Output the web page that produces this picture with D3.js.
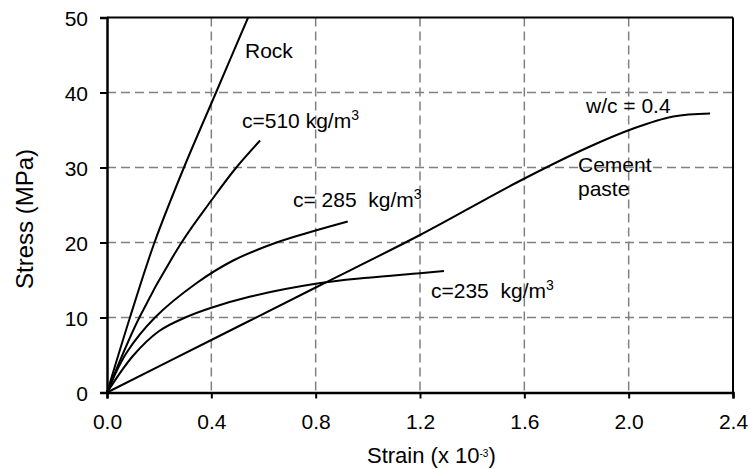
<!DOCTYPE html>
<html>
<head>
<meta charset="utf-8">
<script src="https://cdn.jsdelivr.net/npm/d3@7"></script>
<style>
  html, body { margin: 0; padding: 0; background: #fff; }
  svg { display: block; font-family: "Liberation Sans", Arial, sans-serif; }
</style>
</head>
<body>
<svg id="chart" width="751" height="469"></svg>
<script>
// ---- data (strain x 10^-3, stress MPa) ----
const xTicks = [0.0, 0.4, 0.8, 1.2, 1.6, 2.0, 2.4];
const yTicks = [0, 10, 20, 30, 40, 50];

const rockStrain = [0, 0.088, 0.182, 0.295, 0.418, 0.541];
const rockStress = [0, 10, 20, 30, 40, 50];

const c510Strain = [0, 0.124, 0.286, 0.4, 0.491, 0.587];
const c510Stress = [0, 10, 20, 25.6, 29.8, 33.6];

const c285Strain = [0, 0.075, 0.184, 0.344, 0.484, 0.65, 0.8, 0.923];
const c285Stress = [0, 5.3, 10, 14.6, 17.6, 20.0, 21.6, 22.8];

const c235Strain = [0, 0.1, 0.2, 0.3, 0.4, 0.55, 0.8, 1.0, 1.2, 1.292];
const c235Stress = [0, 4.9, 8.2, 10.0, 11.3, 12.8, 14.5, 15.3, 15.9, 16.2];

const pasteStrain = [0, 0.4, 0.8, 1.2, 1.571, 1.839, 2.018, 2.171, 2.312];
const pasteStress = [0, 7.0, 14.0, 21.0, 28.0, 32.6, 35.2, 36.8, 37.2];

const seriesList = [
  { name: "Rock", strain: rockStrain, stress: rockStress },
  { name: "c=510", strain: c510Strain, stress: c510Stress },
  { name: "c=285", strain: c285Strain, stress: c285Stress },
  { name: "c=235", strain: c235Strain, stress: c235Stress },
  { name: "Cement paste", strain: pasteStrain, stress: pasteStress }
];

// ---- layout ----
const svg = d3.select("#chart");
const pLeft = 107, pRight = 733, pTop = 17.5, pBottom = 392.5;
const x = d3.scaleLinear().domain([0, 2.4]).range([pLeft, pRight]);
const y = d3.scaleLinear().domain([0, 50]).range([pBottom, pTop]);

// gridlines
const grid = svg.append("g");
grid.selectAll("line.v").data(xTicks.slice(1, -1)).join("line")
  .attr("class", "v")
  .attr("x1", d => x(d)).attr("x2", d => x(d))
  .attr("y1", pTop).attr("y2", pBottom)
  .attr("stroke", "#808080").attr("stroke-width", 1.5).attr("stroke-dasharray", "9,5");
grid.selectAll("line.h").data(yTicks.slice(1, -1)).join("line")
  .attr("class", "h")
  .attr("x1", pLeft).attr("x2", pRight)
  .attr("y1", d => y(d)).attr("y2", d => y(d))
  .attr("stroke", "#808080").attr("stroke-width", 1.5).attr("stroke-dasharray", "9,5");

// frame top/right
svg.append("line").attr("x1", pLeft).attr("x2", pRight).attr("y1", pTop).attr("y2", pTop)
  .attr("stroke", "#000").attr("stroke-width", 2);
svg.append("line").attr("x1", pRight).attr("x2", pRight).attr("y1", pTop).attr("y2", pBottom)
  .attr("stroke", "#000").attr("stroke-width", 2);

// axes
const xAxis = d3.axisBottom(x).tickValues(xTicks).tickFormat(d3.format(".1f")).tickSize(6).tickPadding(16);
const yAxis = d3.axisLeft(y).tickValues(yTicks).tickFormat(d3.format("d")).tickSize(7).tickPadding(12);

const gx = svg.append("g").attr("transform", `translate(0,${pBottom})`).call(xAxis);
const gy = svg.append("g").attr("transform", `translate(${pLeft},0)`).call(yAxis);
[gx, gy].forEach(g => {
  g.select(".domain").attr("stroke", "#000").attr("stroke-width", 2.5);
  g.selectAll(".tick line").attr("stroke", "#000").attr("stroke-width", 2);
  g.selectAll(".tick text").attr("fill", "#000")
    .style("font-family", "'Liberation Sans', Arial, sans-serif").style("font-size", "21px");
});
gy.selectAll(".tick text").attr("dy", "0.36em");

// curves
const line = d3.line().x(d => x(d[0])).y(d => y(d[1])).curve(d3.curveCatmullRom.alpha(0.5));
svg.append("g").selectAll("path").data(seriesList).join("path")
  .attr("d", s => line(s.strain.map((v, i) => [v, s.stress[i]])))
  .attr("fill", "none").attr("stroke", "#000").attr("stroke-width", 2);

// labels
const labels = svg.append("g").style("font-size", "21px").attr("fill", "#000");
function label(xp, yp, main, sup) {
  const t = labels.append("text").attr("x", xp).attr("y", yp).attr("xml:space", "preserve");
  t.append("tspan").text(main);
  if (sup) t.append("tspan").attr("dy", -8).style("font-size", "14px").text(sup);
  return t;
}
label(245, 58, "Rock");
label(242, 128, "c=510 kg/m", "3");
label(293, 207, "c= 285  kg/m", "3");
label(431, 298, "c=235  kg/m", "3");
label(586, 113, "w/c = 0.4");
label(578, 171.5, "Cement");
label(578, 195.5, "paste");

// axis titles
const xt = svg.append("text").attr("x", 367).attr("y", 463)
  .style("font-size", "22px").attr("fill", "#000");
xt.append("tspan").text("Strain (x 10");
xt.append("tspan").attr("dy", -6).style("font-size", "10px").text("-3");
xt.append("tspan").attr("dy", 6).text(")");

svg.append("text")
  .attr("transform", "translate(33,219) rotate(-90)")
  .attr("text-anchor", "middle")
  .style("font-size", "24px").attr("fill", "#000")
  .text("Stress (MPa)");
</script>
</body>
</html>
